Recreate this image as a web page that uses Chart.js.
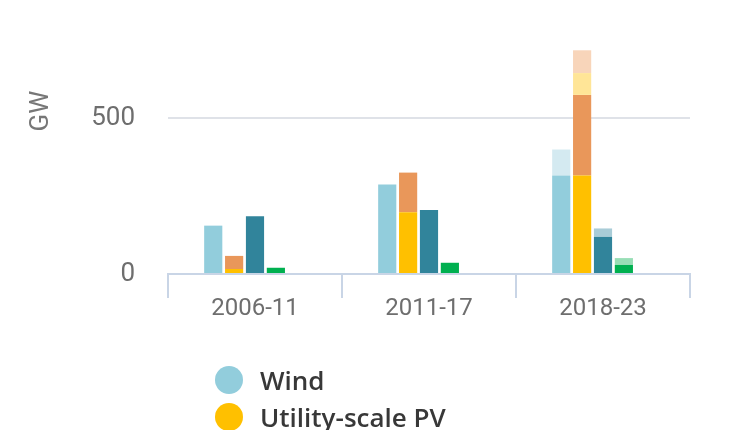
<!DOCTYPE html>
<html>
<head>
<meta charset="utf-8">
<script src="https://cdn.jsdelivr.net/npm/chart.js@4.4.1/dist/chart.umd.min.js"></script>
<style>
    html, body { margin: 0; padding: 0; background: #ffffff; overflow: hidden; }
    #wrap { position: relative; width: 750px; height: 430px; }
    #legend {
        position: absolute; left: 215px; top: 361px; margin: 0; padding: 0;
        list-style: none; font-family: "Open Sans", sans-serif; font-weight: 600;
        font-size: 26px; color: #383838;
    }
    #legend li { display: flex; align-items: center; height: 37px; }
    #legend span.dot { width: 28px; height: 28px; border-radius: 50%; margin-right: 17px; display: inline-block; }
</style>
</head>
<body>
<div id="wrap">
    <canvas id="chart" width="750" height="430"></canvas>
    <ul id="legend"></ul>
</div>
<script>
// ---- data (GW) ----
const periods = ['2006-11', '2011-17', '2018-23'];
const yTicks = [0, 500];
const yMax = 750;

const wind = [155, 287, 316];
const windAccel = [0, 0, 83];
const utilityPV = [16, 198, 316];
const distributedPV = [42, 127, 258];
const utilityPVAccel = [0, 0, 70];
const distributedPVAccel = [0, 0, 73];
const hydropower = [185, 205, 119];
const hydropowerAccel = [0, 0, 27];
const bioenergy = [20, 36, 29];
const bioenergyAccel = [0, 0, 22];
const otherRenewables = [null, null, null];

const legendItems = [
    { label: 'Wind', color: '#92cddc' },
    { label: 'Utility-scale PV', color: '#ffc000' },
    { label: 'Distributed PV', color: '#e9975a' },
    { label: 'Hydropower', color: '#31849b' },
    { label: 'Bioenergy', color: '#00b050' }
];

// Legend sits below the chart, most of it falls outside the window
const legendEl = document.getElementById('legend');
legendItems.forEach(item => {
    const li = document.createElement('li');
    li.innerHTML = '<span class="dot" style="background:' + item.color + '"></span>' + item.label;
    legendEl.appendChild(li);
});

function bar(label, data, stack, color) {
    return { label, data, stack, backgroundColor: color, borderWidth: 0 };
}

// draws the rotated unit label next to the y axis
const unitLabel = {
    id: 'unitLabel',
    afterDraw(chart) {
        const ctx = chart.ctx;
        ctx.save();
        ctx.translate(41, 111);
        ctx.rotate(-Math.PI / 2);
        ctx.font = '26px Roboto';
        ctx.fillStyle = '#777777';
        ctx.textAlign = 'center';
        ctx.textBaseline = 'middle';
        ctx.fillText('GW', 0, 0);
        ctx.restore();
    }
};

const gridColor = '#c9d5e6';

new Chart(document.getElementById('chart'), {
    type: 'bar',
    data: {
        labels: periods,
        datasets: [
            bar('Wind', wind, 'wind', '#92cddc'),
            bar('Wind (accelerated)', windAccel, 'wind', '#d4eaf1'),
            bar('Utility-scale PV', utilityPV, 'pv', '#ffc000'),
            bar('Distributed PV', distributedPV, 'pv', '#e9975a'),
            bar('Utility-scale PV (accelerated)', utilityPVAccel, 'pv', '#ffe597'),
            bar('Distributed PV (accelerated)', distributedPVAccel, 'pv', '#f8d5ba'),
            bar('Hydropower', hydropower, 'hydro', '#31849b'),
            bar('Hydropower (accelerated)', hydropowerAccel, 'hydro', '#a9ccd7'),
            bar('Bioenergy', bioenergy, 'bio', '#00b050'),
            bar('Bioenergy (accelerated)', bioenergyAccel, 'bio', '#98deb6'),
            bar('Other', otherRenewables, 'other', '#cccccc')
        ]
    },
    options: {
        responsive: false,
        animation: false,
        layout: { padding: { top: 40, right: 60, left: 0, bottom: 0 } },
        datasets: { bar: { categoryPercentage: 0.6, barPercentage: 0.87 } },
        plugins: {
            legend: { display: false },
            tooltip: { enabled: false }
        },
        scales: {
            x: {
                stacked: true,
                offset: true,
                afterFit: scale => { scale.height = 156; },
                border: { display: true, color: gridColor, width: 2 },
                grid: {
                    offset: true,
                    drawOnChartArea: false,
                    color: gridColor,
                    lineWidth: 2,
                    tickLength: 24
                },
                ticks: {
                    color: '#6e6e6e',
                    padding: -3,
                    font: { family: 'Roboto', size: 24 }
                }
            },
            y: {
                stacked: true,
                min: 0,
                max: yMax,
                afterFit: scale => {
                    scale.width = 168;
                    scale.paddingTop = 0;
                    scale.paddingBottom = 0;
                },
                afterBuildTicks: scale => { scale.ticks = yTicks.map(v => ({ value: v })); },
                border: { display: false },
                grid: {
                    color: '#dfe2e8',
                    lineWidth: 2,
                    drawTicks: false
                },
                ticks: {
                    color: '#6e6e6e',
                    padding: 33,
                    font: { family: 'Roboto', size: 26 }
                }
            }
        }
    },
    plugins: [unitLabel]
});
</script>
</body>
</html>
